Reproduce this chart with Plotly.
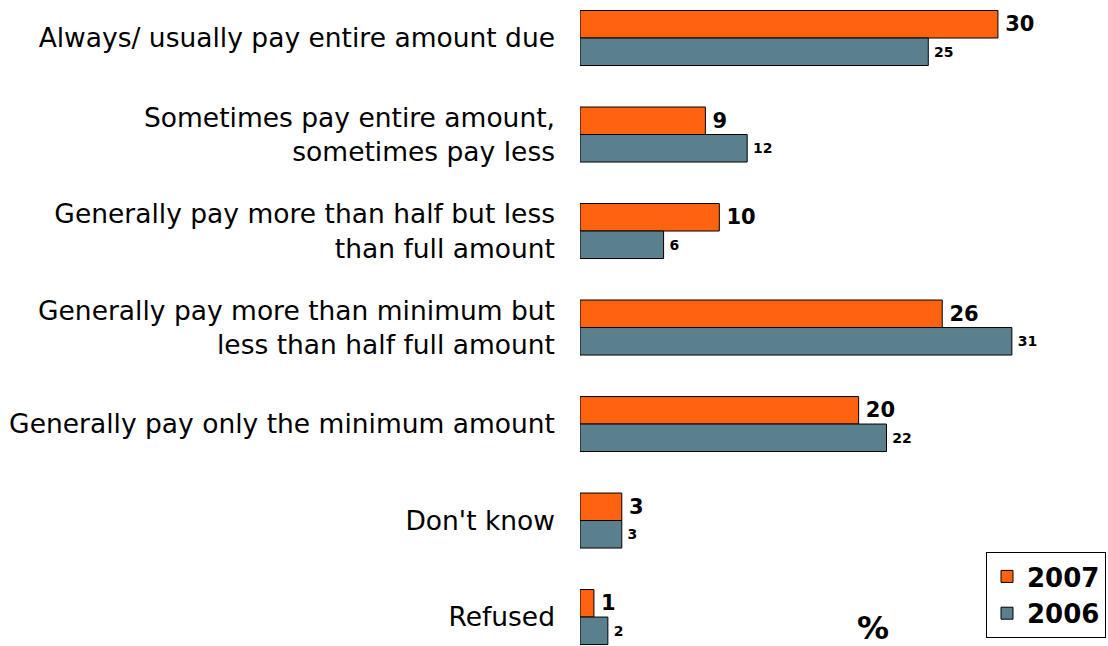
import plotly.graph_objects as go

categories = [
    "Always/ usually pay entire amount due",
    "Sometimes pay entire amount,<br>sometimes pay less",
    "Generally pay more than half but less<br>than full amount",
    "Generally pay more than minimum but<br>less than half full amount",
    "Generally pay only the minimum amount",
    "Don't know",
    "Refused",
]
values_2007 = [30, 9, 10, 26, 20, 3, 1]
values_2006 = [25, 12, 6, 31, 22, 3, 2]

ORANGE = "#FF6310"
SLATE = "#5B808D"
FONT = "Tahoma, Verdana, DejaVu Sans, sans-serif"
PLOT_LEFT, PLOT_W, H = 580, 528, 646

fig = go.Figure()
fig.add_trace(go.Bar(
    name="2007", y=categories, x=values_2007, orientation="h",
    marker=dict(color=ORANGE, line=dict(color="black", width=1)),
    text=values_2007, texttemplate="\u2009%{x}", textposition="outside",
    textfont=dict(family=FONT, size=21, color="black", weight="bold"),
    cliponaxis=False, constraintext="none",
))
fig.add_trace(go.Bar(
    name="2006", y=categories, x=values_2006, orientation="h",
    marker=dict(color=SLATE, line=dict(color="black", width=1)),
    text=values_2006, texttemplate="\u2009%{x}", textposition="outside",
    textfont=dict(family=FONT, size=14, color="black", weight="bold"),
    cliponaxis=False, constraintext="none",
))

fig.update_layout(
    width=1108, height=H,
    margin=dict(l=PLOT_LEFT, r=0, t=0, b=0, autoexpand=False),
    paper_bgcolor="white", plot_bgcolor="white",
    barmode="group", bargap=0.43, bargroupgap=0,
    font=dict(family=FONT, color="black"),
    showlegend=True,
    legend=dict(
        x=(986 - PLOT_LEFT) / PLOT_W, y=1 - 552 / H, xanchor="left", yanchor="top",
        bordercolor="black", borderwidth=1, bgcolor="white",
        font=dict(family=FONT, size=26, color="black", weight="bold"),
        traceorder="normal",
    ),
    xaxis=dict(range=[0, 37.9], visible=False, fixedrange=True),
    yaxis=dict(
        categoryorder="array", categoryarray=categories,
        range=[6.30, -0.394],
        showline=False, showgrid=False, zeroline=False, ticks="",
        tickfont=dict(family=FONT, size=26.5, color="black"),
        ticklabelstandoff=24,
    ),
    annotations=[dict(
        text="<b>%</b>", xref="paper", yref="paper",
        x=(873 - PLOT_LEFT) / PLOT_W, y=1 - 628 / H, xanchor="center", yanchor="middle",
        showarrow=False, font=dict(family=FONT, size=32, color="black"),
    )],
)

fig.write_html("out.html")
